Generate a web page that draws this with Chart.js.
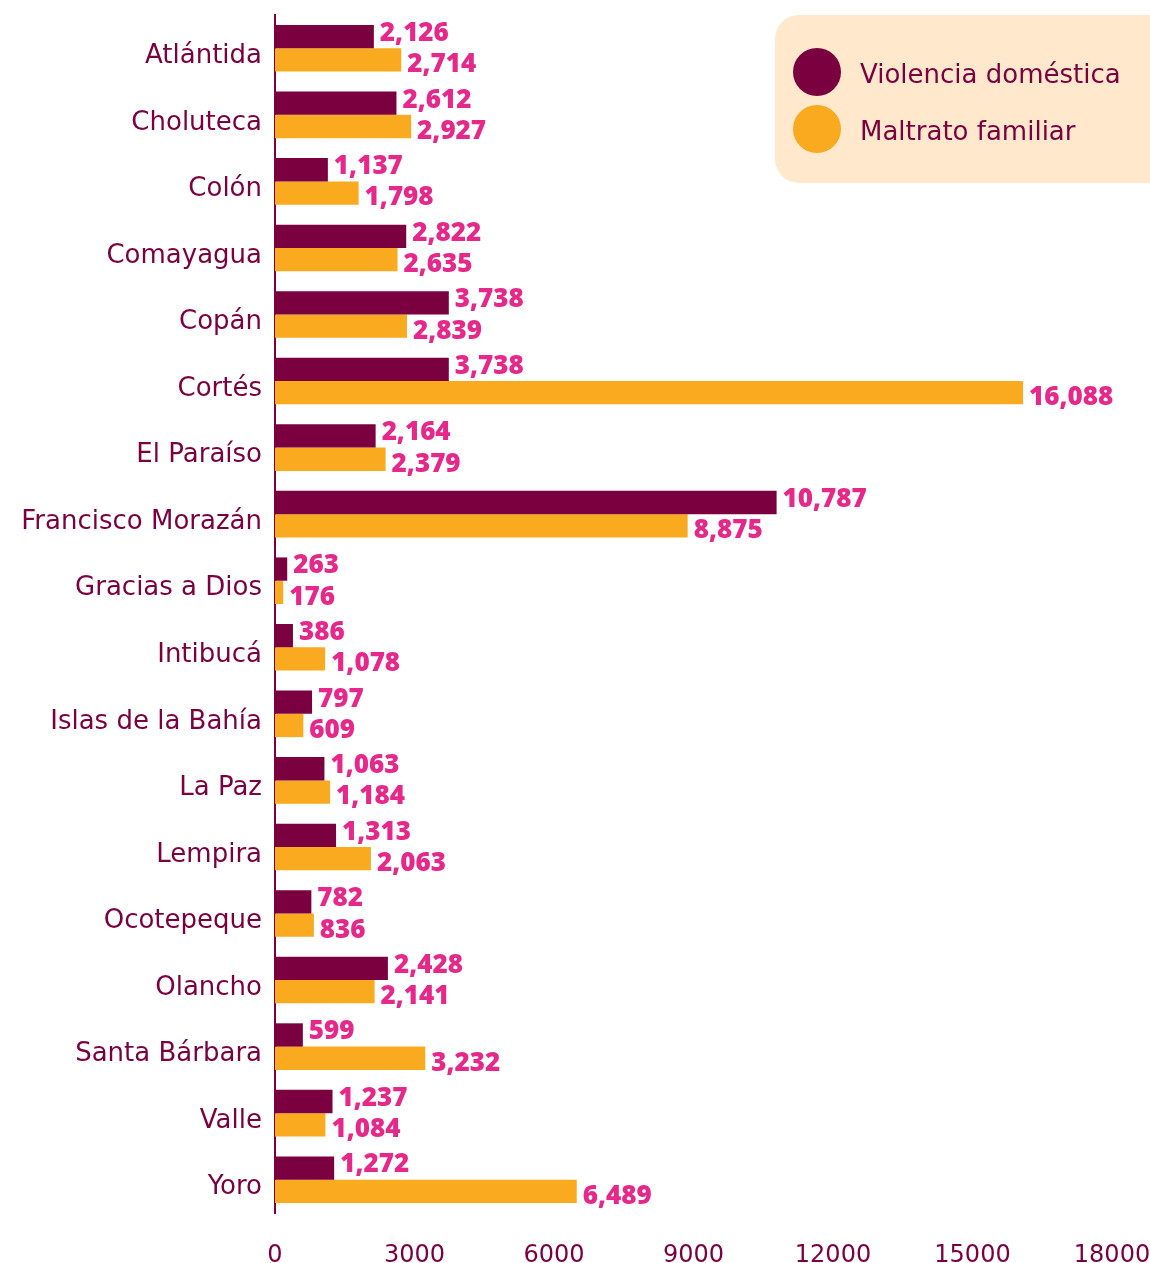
<!DOCTYPE html>
<html>
<head>
<meta charset="utf-8">
<script src="https://cdn.jsdelivr.net/npm/chart.js@4/dist/chart.umd.min.js"></script>
<style>
  html, body { margin: 0; padding: 0; background: #ffffff; }
  #wrap { width: 1150px; height: 1263px; position: relative; }
</style>
</head>
<body>
<div id="wrap"><canvas id="chart"></canvas></div>
<script>
const DEPARTAMENTOS = [
  "Atlántida", "Choluteca", "Colón", "Comayagua", "Copán", "Cortés",
  "El Paraíso", "Francisco Morazán", "Gracias a Dios", "Intibucá",
  "Islas de la Bahía", "La Paz", "Lempira", "Ocotepeque", "Olancho",
  "Santa Bárbara", "Valle", "Yoro"
];
const VIOLENCIA_DOMESTICA = [
  2126, 2612, 1137, 2822, 3738, 3738, 2164, 10787, 263, 386,
  797, 1063, 1313, 782, 2428, 599, 1237, 1272
];
const MALTRATO_FAMILIAR = [
  2714, 2927, 1798, 2635, 2839, 16088, 2379, 8875, 176, 1078,
  609, 1184, 2063, 836, 2141, 3232, 1084, 6489
];
const X_TICKS = [0, 3000, 6000, 9000, 12000, 15000, 18000];

const MAROON = "#7a0040";
const ORANGE = "#f9aa1e";
const PINK = "#e6288a";
const TEXT_FONT = "\"DejaVu Sans\", sans-serif";
const VALUE_FONT = "\"Open Sans\", \"Noto Sans\", sans-serif";

// value labels at the end of each bar
Chart.register({
  id: "barValueLabels",
  afterDatasetsDraw(chart) {
    const ctx = chart.ctx;
    ctx.save();
    ctx.fillStyle = PINK;
    ctx.font = `800 26px ${VALUE_FONT}`;
    ctx.textAlign = "left";
    ctx.textBaseline = "middle";
    chart.data.datasets.forEach((ds, dsIdx) => {
      const meta = chart.getDatasetMeta(dsIdx);
      const shiftY = dsIdx === 0 ? -3 : 5;
      meta.data.forEach((bar, i) => {
        const v = ds.data[i];
        ctx.fillText(v.toLocaleString("en-US"), bar.x + 6, bar.y + shiftY);
      });
    });
    ctx.restore();
  }
});

// legend box in the top right corner
Chart.register({
  id: "boxLegend",
  afterDraw(chart) {
    const ctx = chart.ctx;
    const x = 775, y = 15, w = 400, h = 168, r = 24;
    ctx.save();
    ctx.fillStyle = "#ffe8cc";
    ctx.beginPath();
    ctx.roundRect(x, y, w, h, r);
    ctx.fill();
    ctx.font = `400 26px ${TEXT_FONT}`;
    ctx.textBaseline = "middle";
    ctx.textAlign = "left";
    chart.data.datasets.forEach((ds, i) => {
      const cy = 72 + i * 57;
      ctx.fillStyle = ds.backgroundColor;
      ctx.beginPath();
      ctx.arc(817, cy, 24, 0, Math.PI * 2);
      ctx.fill();
      ctx.fillStyle = MAROON;
      ctx.fillText(ds.label, 860, cy + 4);
    });
    ctx.restore();
  }
});

function buildChart() {
  const canvas = document.getElementById("chart");
  return new Chart(canvas, {
    type: "bar",
    data: {
      labels: DEPARTAMENTOS,
      datasets: [
        {
          label: "Violencia doméstica",
          data: VIOLENCIA_DOMESTICA,
          backgroundColor: MAROON,
          categoryPercentage: 0.7,
          barPercentage: 1.0
        },
        {
          label: "Maltrato familiar",
          data: MALTRATO_FAMILIAR,
          backgroundColor: ORANGE,
          categoryPercentage: 0.7,
          barPercentage: 1.0
        }
      ]
    },
    options: {
      indexAxis: "y",
      responsive: true,
      maintainAspectRatio: false,
      animation: false,
      layout: {
        padding: { top: 15, right: 38, bottom: 0, left: 0 }
      },
      plugins: {
        legend: { display: false },
        tooltip: { enabled: false }
      },
      scales: {
        x: {
          min: 0,
          max: 18000,
          afterBuildTicks: (scale) => {
            scale.ticks = X_TICKS.map((v) => ({ value: v }));
          },
          afterFit: (scale) => {
            scale.height = 50;
            scale.paddingLeft = 0;
            scale.paddingRight = 0;
          },
          grid: { display: false, drawTicks: false },
          border: { display: false },
          ticks: {
            color: MAROON,
            padding: 28,
            maxRotation: 0,
            autoSkip: false,
            callback: (v) => String(v),
            font: { family: TEXT_FONT, size: 24 }
          }
        },
        y: {
          afterFit: (scale) => {
            scale.width = 275;
            scale.paddingTop = 0;
            scale.paddingBottom = 0;
          },
          grid: { display: false, drawTicks: false },
          border: { display: true, color: MAROON, width: 2 },
          ticks: {
            color: MAROON,
            padding: 13,
            labelOffset: 8,
            autoSkip: false,
            font: { family: TEXT_FONT, size: 26 }
          }
        }
      }
    }
  });
}

buildChart();
</script>
</body>
</html>
